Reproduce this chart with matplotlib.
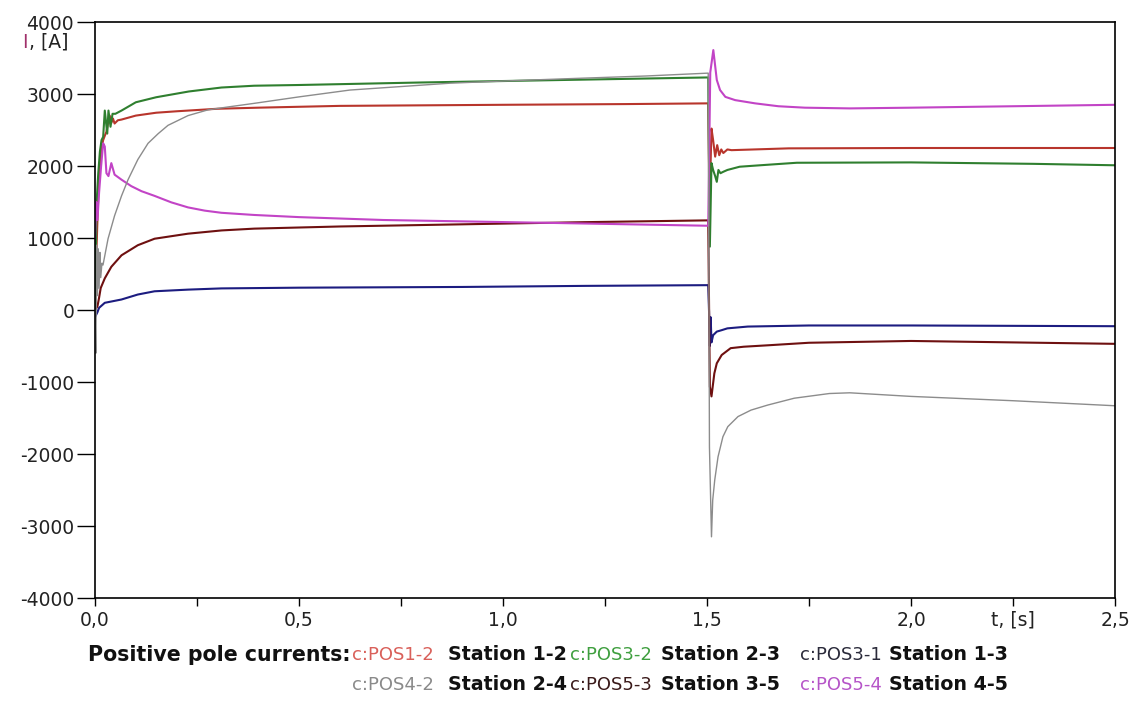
import matplotlib.pyplot as plt
import numpy as np

plt.rcParams['axes.unicode_minus'] = False

# time [s] / current [A], one pair per pole current
t_pos12 = [0.0, 0.004, 0.008, 0.012, 0.016, 0.02, 0.024, 0.028, 0.032, 0.036,
           0.04, 0.044, 0.048, 0.056, 0.065, 0.1, 0.15, 0.2, 0.3, 0.4,
           0.6, 1.0, 1.3, 1.503, 1.506, 1.511, 1.515, 1.52, 1.525, 1.53,
           1.535, 1.54, 1.55, 1.56, 1.7, 2.0, 2.5]
i_pos12 = [0, 900, 1600, 2000, 2250, 2360, 2420, 2475, 2600, 2700,
           2600, 2660, 2590, 2635, 2645, 2700, 2740, 2760, 2795, 2810,
           2835, 2850, 2860, 2870, 1400, 2520, 2360, 2130, 2290, 2150,
           2230, 2180, 2230, 2220, 2245, 2250, 2250]

t_pos32 = [0.0, 0.004, 0.008, 0.012, 0.016, 0.02, 0.024, 0.03, 0.033, 0.038,
           0.043, 0.05, 0.065, 0.1, 0.15, 0.23, 0.31, 0.39, 0.5, 0.8,
           1.2, 1.503, 1.507, 1.511, 1.515, 1.52, 1.524, 1.528, 1.533, 1.54,
           1.55, 1.58, 1.63, 1.72, 2.0, 2.3, 2.5]
i_pos32 = [0, 1500, 1900, 2200, 2360, 2405, 2770, 2450, 2770, 2545,
           2725, 2725, 2770, 2885, 2955, 3035, 3090, 3115, 3125, 3160,
           3200, 3230, 880, 2040, 1945, 1860, 1780, 1945, 1900, 1920,
           1945, 1990, 2010, 2045, 2050, 2030, 2010]

t_pos31 = [0.0, 0.006, 0.01, 0.024, 0.065, 0.105, 0.146, 0.228, 0.31, 0.5,
           0.9, 1.2, 1.503, 1.505, 1.507, 1.509, 1.511, 1.515, 1.524, 1.536,
           1.55, 1.6, 1.75, 2.0, 2.5]
i_pos31 = [-100, -30, 30, 100, 146, 215, 260, 283, 300, 310,
           320, 335, 345, -20, -500, -100, -450, -350, -300, -280,
           -255, -230, -215, -215, -225]

t_pos42 = [0.0, 0.002, 0.004, 0.006, 0.008, 0.01, 0.012, 0.014, 0.017, 0.0196,
           0.032, 0.048, 0.065, 0.081, 0.105, 0.13, 0.155, 0.179, 0.228, 0.277,
           0.326, 0.39, 0.5, 0.625, 0.87, 1.0, 1.196, 1.35, 1.503, 1.506,
           1.511, 1.514, 1.519, 1.527, 1.539, 1.551, 1.576, 1.608, 1.649, 1.714,
           1.8, 1.85, 2.0, 2.25, 2.5]
i_pos42 = [0, -600, 900, 200, 850, 300, 800, 450, 650, 625,
           990, 1310, 1585, 1810, 2090, 2315, 2450, 2565, 2700, 2780,
           2820, 2870, 2960, 3055, 3150, 3180, 3220, 3250, 3290, -1900,
           -3150, -2640, -2360, -2040, -1760, -1620, -1480, -1390, -1320, -1225,
           -1160, -1150, -1200, -1260, -1330]

t_pos53 = [0.0, 0.006, 0.01, 0.014, 0.024, 0.04, 0.065, 0.105, 0.146, 0.228,
           0.31, 0.39, 0.6, 0.9, 1.2, 1.503, 1.507, 1.511, 1.518, 1.524,
           1.536, 1.558, 1.59, 1.65, 1.75, 2.0, 2.25, 2.5]
i_pos53 = [0, 50, 170, 305, 440, 600, 760, 900, 990, 1060,
           1105, 1130, 1160, 1190, 1220, 1245, -1065, -1200, -880, -740,
           -625, -530, -510, -490, -455, -430, -450, -470]

t_pos54 = [0.0, 0.003, 0.006, 0.01, 0.015, 0.02, 0.024, 0.028, 0.033, 0.04,
           0.048, 0.065, 0.089, 0.114, 0.146, 0.187, 0.228, 0.269, 0.31, 0.39,
           0.5, 0.707, 1.115, 1.503, 1.508, 1.5155, 1.524, 1.532, 1.545, 1.569,
           1.618, 1.675, 1.74, 1.85, 2.0, 2.25, 2.5]
i_pos54 = [1000, 1500, 1250, 1630, 2000, 2315, 2270, 1900, 1860, 2040,
           1880, 1810, 1720, 1650, 1585, 1495, 1425, 1380, 1350, 1320,
           1290, 1250, 1210, 1170, 3300, 3610, 3195, 3055, 2960, 2915,
           2870, 2830, 2810, 2800, 2810, 2830, 2850]

codes = ['c:POS1-2', 'c:POS3-2', 'c:POS3-1', 'c:POS4-2', 'c:POS5-3', 'c:POS5-4']
names = ['Station 1-2', 'Station 2-3', 'Station 1-3',
         'Station 2-4', 'Station 3-5', 'Station 4-5']
x_ticks = [0.0, 0.25, 0.5, 0.75, 1.0, 1.25, 1.5, 1.75, 2.0, 2.25, 2.5]
x_labels = ['0,0', '', '0,5', '', '1,0', '', '1,5', '', '2,0', 't, [s]', '2,5']
y_ticks = [-4000, -3000, -2000, -1000, 0, 1000, 2000, 3000, 4000]

line_colors = ['#b8352c', '#2f7f2f', '#1c1c80', '#8c8c8c', '#6e1010', '#c244c6']
code_colors = ['#d9605a', '#3f9f3f', '#2a2a3a', '#8a8a8a', '#3a1a1a', '#b655c8']

W, H = 1139, 704
fig = plt.figure(figsize=(W / 100, H / 100), dpi=100)
ax = fig.add_axes([95 / W, 1 - 598 / H, (1115 - 95) / W, (598 - 22) / H])

series = [(t_pos12, i_pos12), (t_pos32, i_pos32), (t_pos31, i_pos31),
          (t_pos53, i_pos53), (t_pos54, i_pos54), (t_pos42, i_pos42)]
order = [0, 1, 2, 4, 5, 3]
for (t, i), k in zip(series, order):
    lw = 1.0 if k == 3 else 1.5
    ax.plot(t, i, color=line_colors[k], lw=lw)

ax.set_xlim(0, 2.5)
ax.set_ylim(-4000, 4000)
ax.set_xticks(x_ticks)
ax.set_xticklabels(x_labels)
ax.set_yticks(y_ticks)
ax.tick_params(axis='y', direction='out', length=13, width=1, pad=2,
               labelsize=13.5, labelcolor='#222222')
ax.tick_params(axis='x', direction='out', length=6, width=1, pad=3,
               labelsize=13.5, labelcolor='#222222')
for s in ax.spines.values():
    s.set_linewidth(1.2)

# y axis label sitting under the 4000 tick
fig.text(22 / W, 1 - 42 / H, 'I', color='#a0306a', fontsize=13.5, va='center')
fig.text(29 / W, 1 - 42 / H, ', [A]', color='#222222', fontsize=13.5, va='center')

# legend lines under the plot
fig.text(350 / W, 1 - 655 / H, 'Positive pole currents:', fontsize=14.8,
         fontweight='bold', ha='right', va='center', color='#111111')
code_x = [352, 570, 800]
name_x = [448, 661, 889]
row_y = [655, 685]
for n in range(6):
    r, c = divmod(n, 3)
    fig.text(code_x[c] / W, 1 - row_y[r] / H, codes[n], fontsize=13,
             color=code_colors[n], va='center')
    fig.text(name_x[c] / W, 1 - row_y[r] / H, names[n], fontsize=13.7,
             fontweight='bold', color='#111111', va='center')

fig.savefig('out.png', dpi=100)
